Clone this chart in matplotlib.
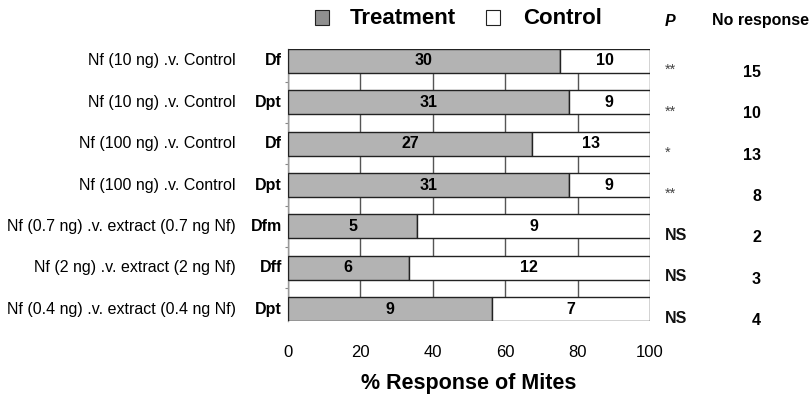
"""Mite response: treatment vs control, stacked horizontal bars."""

import numpy as np
import matplotlib
matplotlib.use("Agg")
import matplotlib.pyplot as plt
from matplotlib.patches import Rectangle

plt.rcParams["font.family"] = ["Liberation Sans", "DejaVu Sans"]

comparisons = [
    "Nf (10 ng) .v. Control",
    "Nf (10 ng) .v. Control",
    "Nf (100 ng) .v. Control",
    "Nf (100 ng) .v. Control",
    "Nf (0.7 ng) .v. extract (0.7 ng Nf)",
    "Nf (2 ng) .v. extract (2 ng Nf)",
    "Nf (0.4 ng) .v. extract (0.4 ng Nf)",
]
species = ["Df", "Dpt", "Df", "Dpt", "Dfm", "Dff", "Dpt"]
treatment = [30, 31, 27, 31, 5, 6, 9]
control = [10, 9, 13, 9, 9, 12, 7]
p_values = ["**", "**", "*", "**", "NS", "NS", "NS"]
no_response = [15, 10, 13, 8, 2, 3, 4]

TREAT_COLOR = "#b3b3b3"
LEGEND_GREY = "#8f8f8f"
BAR_H = 0.58

fig = plt.figure(figsize=(8.12, 4.0), dpi=100)
ax = fig.add_axes([288 / 812, 1 - 321 / 400, 362 / 812, 272 / 400])

treat = np.array(treatment, dtype=float)
ctrl = np.array(control, dtype=float)
pct_t = treat / (treat + ctrl) * 100
pct_c = 100 - pct_t
y = np.arange(len(treatment))

ax.barh(y, pct_t, height=BAR_H, color=TREAT_COLOR, edgecolor="#222222",
        linewidth=1.0, zorder=3)
ax.barh(y, pct_c, left=pct_t, height=BAR_H, color="white",
        edgecolor="#222222", linewidth=1.0, zorder=3)

for i in range(len(y)):
    ax.text(pct_t[i] / 2, y[i], str(treatment[i]), ha="center", va="center",
            fontsize=11.5, fontweight="bold", zorder=4)
    ax.text(pct_t[i] + pct_c[i] / 2, y[i], str(control[i]), ha="center",
            va="center", fontsize=11.5, fontweight="bold", zorder=4)

ax.set_xlim(0, 100)
ax.set_ylim(len(y) - 1 + BAR_H / 2, -BAR_H / 2)
ax.set_xticks([0, 20, 40, 60, 80, 100])
ax.tick_params(axis="x", length=0, labelsize=12, pad=17)
ax.set_yticks(y[:-1] + 0.5)
ax.set_yticklabels([])
ax.tick_params(axis="y", length=2, color="#888888", direction="out")
ax.grid(axis="x", color="#555555", linewidth=1.0, zorder=1)
for s in ("top", "right", "bottom"):
    ax.spines[s].set_visible(False)
ax.spines["left"].set_color("#999999")
ax.spines["left"].set_linewidth(1.0)
ax.set_xlabel("% Response of Mites", fontsize=15.5, fontweight="bold",
              labelpad=10)

# left-hand labels and right-hand columns
trans = ax.get_yaxis_transform()
for i in range(len(y)):
    ax.text(-52 / 362, y[i], comparisons[i], transform=trans, ha="right",
            va="center", fontsize=11.5)
    ax.text(-6 / 362, y[i], species[i], transform=trans, ha="right",
            va="center", fontsize=11.5, fontweight="bold")
    is_ns = p_values[i] == "NS"
    ax.text(1 + 15 / 362, y[i] + 0.22, p_values[i], transform=trans,
            ha="left", va="center", fontsize=11.5 if is_ns else 10.5,
            fontweight="bold" if is_ns else "normal",
            color="#111111" if is_ns else "#444444")
    ax.text(1 + 111 / 362, y[i] + 0.28, str(no_response[i]), transform=trans,
            ha="right", va="center", fontsize=11.5, fontweight="bold")

# header: legend and column titles
fig.patches.append(Rectangle((315 / 812, 1 - 25 / 400), 14 / 812, 15 / 400,
                             transform=fig.transFigure, facecolor=LEGEND_GREY,
                             edgecolor="#222222", linewidth=0.8))
fig.text(350 / 812, 1 - 18 / 400, "Treatment", ha="left", va="center",
         fontsize=16, fontweight="bold")
fig.patches.append(Rectangle((486 / 812, 1 - 25 / 400), 14 / 812, 15 / 400,
                             transform=fig.transFigure, facecolor="white",
                             edgecolor="#222222", linewidth=0.8))
fig.text(523 / 812, 1 - 18 / 400, "Control", ha="left", va="center",
         fontsize=16, fontweight="bold")
fig.text(670 / 812, 1 - 21 / 400, "P", ha="center", va="center",
         fontsize=11.5, fontweight="bold", style="italic")
fig.text(761 / 812, 1 - 21 / 400, "No response", ha="center", va="center",
         fontsize=11.5, fontweight="bold")

fig.savefig("out.png", dpi=100, facecolor="white")
